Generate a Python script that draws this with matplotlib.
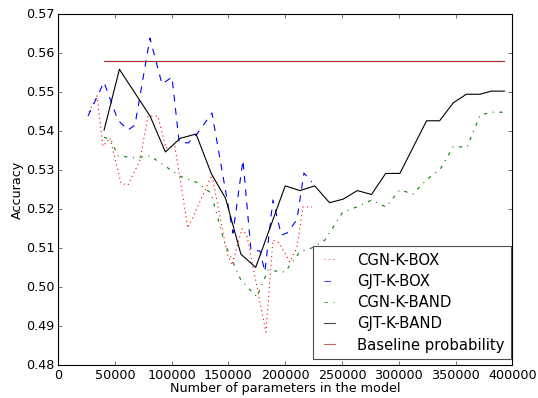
import matplotlib
matplotlib.use('Agg')
import matplotlib.pyplot as plt

plt.style.use('classic')

# CGN-K-BOX
cgn_box_x = [27200, 34200, 39500, 45700, 55400, 61500, 72100, 79100, 87900, 94900,
             102800, 114300, 135500, 148700, 153100, 161900, 166300, 183000, 189200,
             194500, 204200, 210300, 215600, 223500]
cgn_box_y = [0.5450, 0.5491, 0.5362, 0.5383, 0.5267, 0.5262, 0.5326, 0.5439, 0.5439, 0.5357,
             0.5362, 0.5152, 0.5288, 0.5088, 0.5057, 0.5150, 0.5132, 0.4885, 0.5121,
             0.5114, 0.5065, 0.5101, 0.5206, 0.5206]

# GJT-K-BOX
gjt_box_x = [26300, 40400, 52700, 61500, 67700, 80900, 91500, 100300, 106600, 114500,
             122300, 135500, 154000, 162800, 169800, 177800, 182100, 189200, 196600,
             201500, 210300, 216500, 223500]
gjt_box_y = [0.5439, 0.5526, 0.5429, 0.5403, 0.5416, 0.5639, 0.5521, 0.5539, 0.5372, 0.5370,
             0.5393, 0.5447, 0.5139, 0.5326, 0.5096, 0.5093, 0.5040, 0.5224, 0.5134,
             0.5139, 0.5173, 0.5293, 0.5270]

# CGN-K-BAND
cgn_band_x = [40400, 46600, 52700, 67700, 81100, 94100, 107300, 121400, 134600, 146600,
              160900, 175100, 184800, 199800, 212900, 223500, 234900, 250800, 263100,
              276300, 288600, 301000, 312400, 324200, 336500, 347900, 360300, 371700,
              382300, 393700]
cgn_band_y = [0.5385, 0.5378, 0.5337, 0.5332, 0.5337, 0.5311, 0.5285, 0.5270, 0.5242, 0.5114,
              0.5019, 0.4975, 0.5044, 0.5039, 0.5091, 0.5101, 0.5121, 0.5193, 0.5206,
              0.5224, 0.5206, 0.5250, 0.5239, 0.5275, 0.5303, 0.5360, 0.5360, 0.5442,
              0.5449, 0.5449]

# GJT-K-BAND
gjt_band_x = [40500, 54000, 81000, 94500, 107500, 121500, 135000, 147500, 161000, 174000,
              200000, 213000, 226000, 239000, 251000, 263500, 276000, 288500, 301000,
              324500, 336000, 348000, 359500, 371500, 381500, 393000]
gjt_band_y = [0.5403, 0.5559, 0.5439, 0.5347, 0.5382, 0.5393, 0.5291, 0.5228, 0.5085, 0.5051,
              0.5260, 0.5248, 0.5260, 0.5217, 0.5226, 0.5248, 0.5238, 0.5292, 0.5292,
              0.5427, 0.5427, 0.5473, 0.5495, 0.5495, 0.5503, 0.5503]

baseline_x = [40500, 393000]
baseline_y = [0.558, 0.558]

fig = plt.figure(figsize=(538 / 80.0, 398 / 80.0), dpi=80, facecolor='white')
ax = fig.add_axes([58.1 / 538, 1 - 365.3 / 398, (512.3 - 58.1) / 538, (365.3 - 14.3) / 398])

ax.plot(cgn_box_x, cgn_box_y, 'r:', lw=1.0, label='CGN-K-BOX')
ax.plot(gjt_box_x, gjt_box_y, 'b--', lw=1.0, label='GJT-K-BOX')
ax.plot(cgn_band_x, cgn_band_y, 'g-.', lw=1.0, label='CGN-K-BAND')
ax.plot(gjt_band_x, gjt_band_y, 'k-', lw=1.0, label='GJT-K-BAND')
ax.plot(baseline_x, baseline_y, '-', color='#a52a2a', lw=1.0, label='Baseline probability')

ax.set_xlim(0, 400000)
ax.set_ylim(0.48, 0.57)
ax.set_xticks(range(0, 400001, 50000))
ax.set_yticks([0.48 + 0.01 * i for i in range(10)])
ax.set_yticklabels(['%.2f' % (0.48 + 0.01 * i) for i in range(10)])
ax.tick_params(labelsize=11.5, pad=3)
ax.set_xlabel('Number of parameters in the model', fontsize=11.5, labelpad=0)
ax.set_ylabel('Accuracy', fontsize=11.5, labelpad=2)

leg = ax.legend(loc='lower right', bbox_to_anchor=(0.997, 0.017), borderaxespad=0.0,
                fontsize=13.4, handlelength=1.35, handletextpad=1.15, labelspacing=0.42,
                borderpad=0.45, fancybox=False, numpoints=2)
leg.get_frame().set_edgecolor('0.3')
for line in leg.get_lines():
    line.set_alpha(0.7)

fig.savefig('out.png', dpi=80, facecolor='white')
